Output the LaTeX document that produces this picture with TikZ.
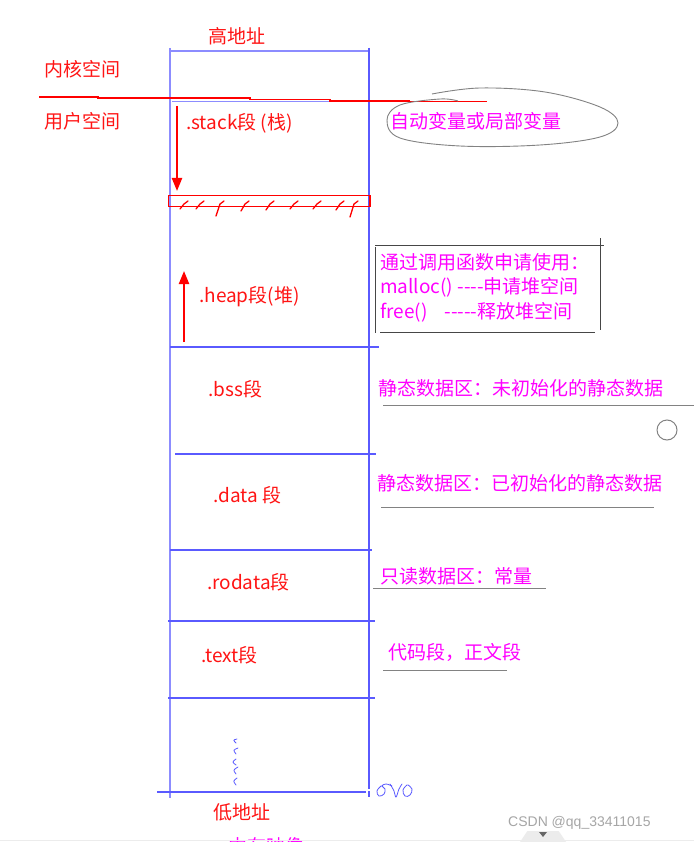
\documentclass[tikz,border=0pt]{standalone}
\usepackage{fontspec}
\setmainfont{Noto Sans CJK SC}
\usetikzlibrary{arrows.meta}
\definecolor{lblue}{RGB}{90,90,255}
\definecolor{pblue}{RGB}{140,140,255}
\definecolor{mag}{RGB}{255,0,255}
\definecolor{rred}{RGB}{255,20,20}
\definecolor{gline}{RGB}{130,130,130}
\definecolor{dline}{RGB}{70,70,70}
\newcommand\hy{{-}}
\tikzset{
  lbl/.style={inner sep=0pt, anchor=west, font=\fontsize{19}{22}\selectfont},
  seglbl/.style={lbl, text=rred},
  note/.style={lbl, text=mag},
  memline/.style={draw=lblue, line width=1.2pt},
  redarrow/.style={draw=red, line width=2.2pt, -{Triangle[length=13pt,width=10pt]}},
  uline/.style={draw=gline, line width=0.9pt},
  boxline/.style={draw=dline, line width=0.9pt},
}
\begin{document}
\begin{tikzpicture}[x=1pt,y=-1pt]
\useasboundingbox[fill=white] (0,0) rectangle (694,842);

% memory column
\draw[memline, draw=pblue] (170,51) -- (369,51);
\draw[memline, draw=pblue] (170,48) -- (170,798);
\draw[memline] (369,48) -- (369,789);
\draw[memline] (369,791) -- (369,797);
\draw[memline, draw=pblue, line width=0.8pt] (172,101) -- (369,101);
\draw[memline] (170,347) -- (379,347);
\draw[memline] (175,454) -- (376,454);
\draw[memline] (170,550) -- (372,550);
\draw[memline] (168,621) -- (375,621);
\draw[memline] (168,698) -- (375,698);
\draw[memline] (157,792) -- (366,792);

% red kernel/user boundary
\draw[red, line width=1.6pt] (39,97) -- (98,97) -- (98,98) -- (250,98) -- (250,99.5) -- (330,99.5) -- (330,101) -- (409,101) -- (409,101.5) -- (487,101.5);

% labels left
\node[seglbl] (kern) at (44,69) {内核空间};
\node[seglbl] (user) at (44,121) {用户空间};
\node[seglbl] (high) at (208,36) {高地址};
\node[seglbl] (low) at (213,812) {低地址};
\node[note] (img) at (228,846) {内存映像};

% segment labels
\node[seglbl] (stack) at (186,123) {.stack段 (栈)};
\node[seglbl] (heap) at (199,297) {.heap段(堆)};
\node[seglbl] (bss) at (208,389) {.bss段};
\node[seglbl] (data) at (213,495) {.data 段};
\node[seglbl] (ro) at (207,582) {.rodata段};
\node[seglbl] (text) at (201,655) {.text段};

% arrows
\coordinate (sa) at (177,106);
\coordinate (sb) at (177,191);
\coordinate (ha) at (184,342);
\coordinate (hb) at (184,271);
\draw[redarrow] (sa) -- (sb);
\draw[redarrow] (ha) -- (hb);

% heap top limit rectangle with hatching
\draw[red, line width=1.8pt] (168.5,195.5) rectangle (370,206.5);
\foreach \x/\l in {182/209,198/209,218/216,243/211,268/210,292/209,315/209,338/210,352/217}{
  \draw[red, line width=1.3pt, line cap=round] (\x+6,201) -- (\x+2,204) -- (\x-2,\l);
}

% ellipse note
\node[note] (auto) at (390,121) {自动变量或局部变量};
\draw[gline, line width=0.9pt] plot[smooth, tension=0.6] coordinates {(432,94) (480,88) (545,92) (600,107) (618,123) (600,137) (540,145) (460,146) (400,138) (387,120) (400,105) (440,99) (458,101)};

% heap note box
\draw[boxline] (375,245) -- (604,245);
\draw[boxline] (600,238) -- (600,330);
\draw[boxline] (375,247) -- (375,333);
\draw[boxline] (380,332) -- (595,332);
\node[note] (n1) at (380,262) {通过调用函数申请使用：};
\node[note] (n2) at (380,287) {malloc() \hy\hy\hy\hy{}申请堆空间};
\node[note] (n3) at (380,312) {free()\ \ \ \ \hy\hy\hy\hy\hy{}释放堆空间};

% right notes
\node[note] (bssn) at (378,388) {静态数据区：未初始化的静态数据};
\draw[uline] (383,405) -- (694,405);
\draw[gline, line width=1pt] (667,430) circle (10);
\node[note] (datan) at (377,483) {静态数据区：已初始化的静态数据};
\draw[uline] (381,507) -- (654,507);
\node[note] (ron) at (380,576) {只读数据区：常量};
\draw[uline] (373,588) -- (546,588);
\node[note] (textn) at (388,652) {代码段，正文段};
\draw[uline] (383,670) -- (507,670);

% squiggles
\draw[lblue, line width=0.8pt, line cap=round]
  (237,739) .. controls (233,740) .. (236,743)
  (238,748) .. controls (233,750) .. (236,754)
  (236,759) .. controls (232,762) .. (236,765)
  (238,767) .. controls (233,770) .. (236,774)
  (237,778) .. controls (233,781) .. (236,785);

% handwritten 0x0
\draw[lblue, line width=0.8pt, line cap=round] plot[smooth, tension=0.7] coordinates {(381,786) (377,791) (379,796) (384,794) (385,789) (382,786) (386,784) (392,786)};
\draw[lblue, line width=0.8pt, line cap=round] plot[smooth, tension=0.7] coordinates {(390,784) (394,791) (396,797) (399,789) (402,784)};
\draw[lblue, line width=0.8pt, line cap=round] plot[smooth, tension=0.7] coordinates {(407,785) (403,790) (405,796) (410,795) (412,789) (408,785)};

% watermark
\node[inner sep=0pt, anchor=west, text=gray!70, font=\fontspec{Liberation Sans}\fontsize{14}{16}\selectfont] (wm) at (508,823) {CSDN @qq\_33411015};
\draw[gray!15, line width=0.8pt] (0,840) -- (694,840);
\fill[gray!15] (520,842) -- (526,833) .. controls (527,831) .. (530,831) -- (556,831) .. controls (559,831) .. (560,833) -- (566,842) -- cycle;
\fill[gray!80!black] (539,832) -- (547,832) -- (543,837) -- cycle;
\end{tikzpicture}
\end{document}
